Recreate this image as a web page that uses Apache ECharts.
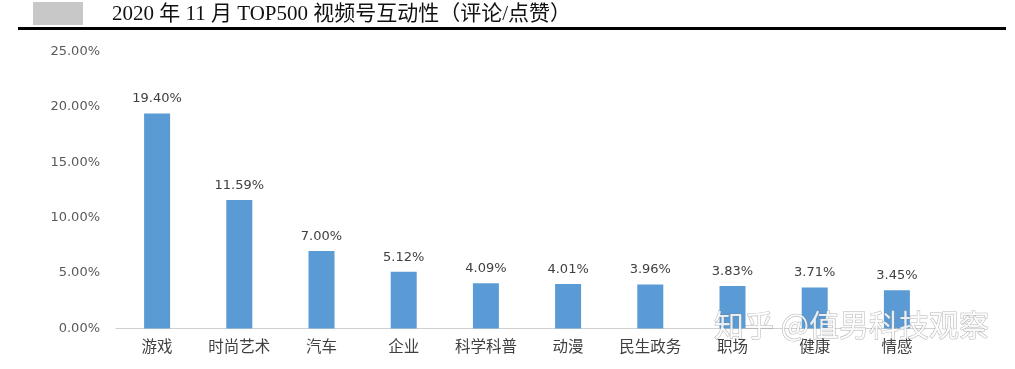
<!DOCTYPE html>
<html><head><meta charset="utf-8">
<script src="https://cdn.jsdelivr.net/npm/echarts@6/dist/echarts.min.js"></script>
<style>html,body{margin:0;padding:0;background:#fff}#c{width:1015px;height:369px}</style>
</head><body><div id="c"></div>
<script>
var categories = ['游戏','时尚艺术','汽车','企业','科学科普','动漫','民生政务','职场','健康','情感'];
var values = [19.40, 11.59, 7.00, 5.12, 4.09, 4.01, 3.96, 3.83, 3.71, 3.45];
var yTicks = [0, 5, 10, 15, 20, 25];
var titleText = '2020 年 11 月 TOP500 视频号互动性（评论/点赞）';
var watermark = '知乎 @值男科技观察';

var chart = echarts.init(document.getElementById('c'), null, {renderer:'canvas'});
chart.setOption({
  animation: false,
  backgroundColor: '#fff',
  grid: {left: 116, right: 77, top: 51.5, bottom: 40.5},
  xAxis: {
    type: 'category', data: categories,
    axisLine: {show: true, lineStyle: {color: '#d0d0d0', width: 1}},
    axisTick: {show: false},
    axisLabel: {color: '#404040', fontSize: 15.5, margin: 10, interval: 0, hideOverlap: false, fontFamily: 'Noto Sans CJK SC'}
  },
  yAxis: {
    type: 'value', min: yTicks[0], max: yTicks[yTicks.length-1], interval: 5,
    splitLine: {show: false},
    axisLine: {show: false}, axisTick: {show: false},
    axisLabel: {color: '#595959', fontSize: 13, margin: 16, fontFamily: 'DejaVu Sans',
      formatter: function(v){ return v.toFixed(2) + '%'; }}
  },
  series: [{
    type: 'bar', data: values, barWidth: 26,
    itemStyle: {color: '#5b9bd5'},
    label: {show: true, position: 'top', distance: 8, color: '#404040', fontSize: 13, fontFamily: 'DejaVu Sans',
      formatter: function(p){ return p.value.toFixed(2) + '%'; }}
  }],
  graphic: [
    {type: 'rect', shape: {x: 33, y: 2, width: 50, height: 23}, style: {fill: '#c8c8c8'}},
    {type: 'rect', shape: {x: 18, y: 27, width: 988, height: 3}, style: {fill: '#000'}},
    {type: 'text', x: 112, y: 14, style: {text: titleText, fill: '#111', fontSize: 21, verticalAlign: 'middle',
      fontFamily: '"Liberation Serif", "Noto Sans CJK SC"'}},
    {type: 'text', x: 714, y: 325, z: 100, style: {text: watermark, fill: 'rgba(255,255,255,0.85)', verticalAlign: 'middle',
      stroke: 'rgba(120,120,120,0.55)', lineWidth: 1, fontSize: 30, fontFamily: 'Noto Sans CJK SC'}}
  ]
});
</script></body></html>
